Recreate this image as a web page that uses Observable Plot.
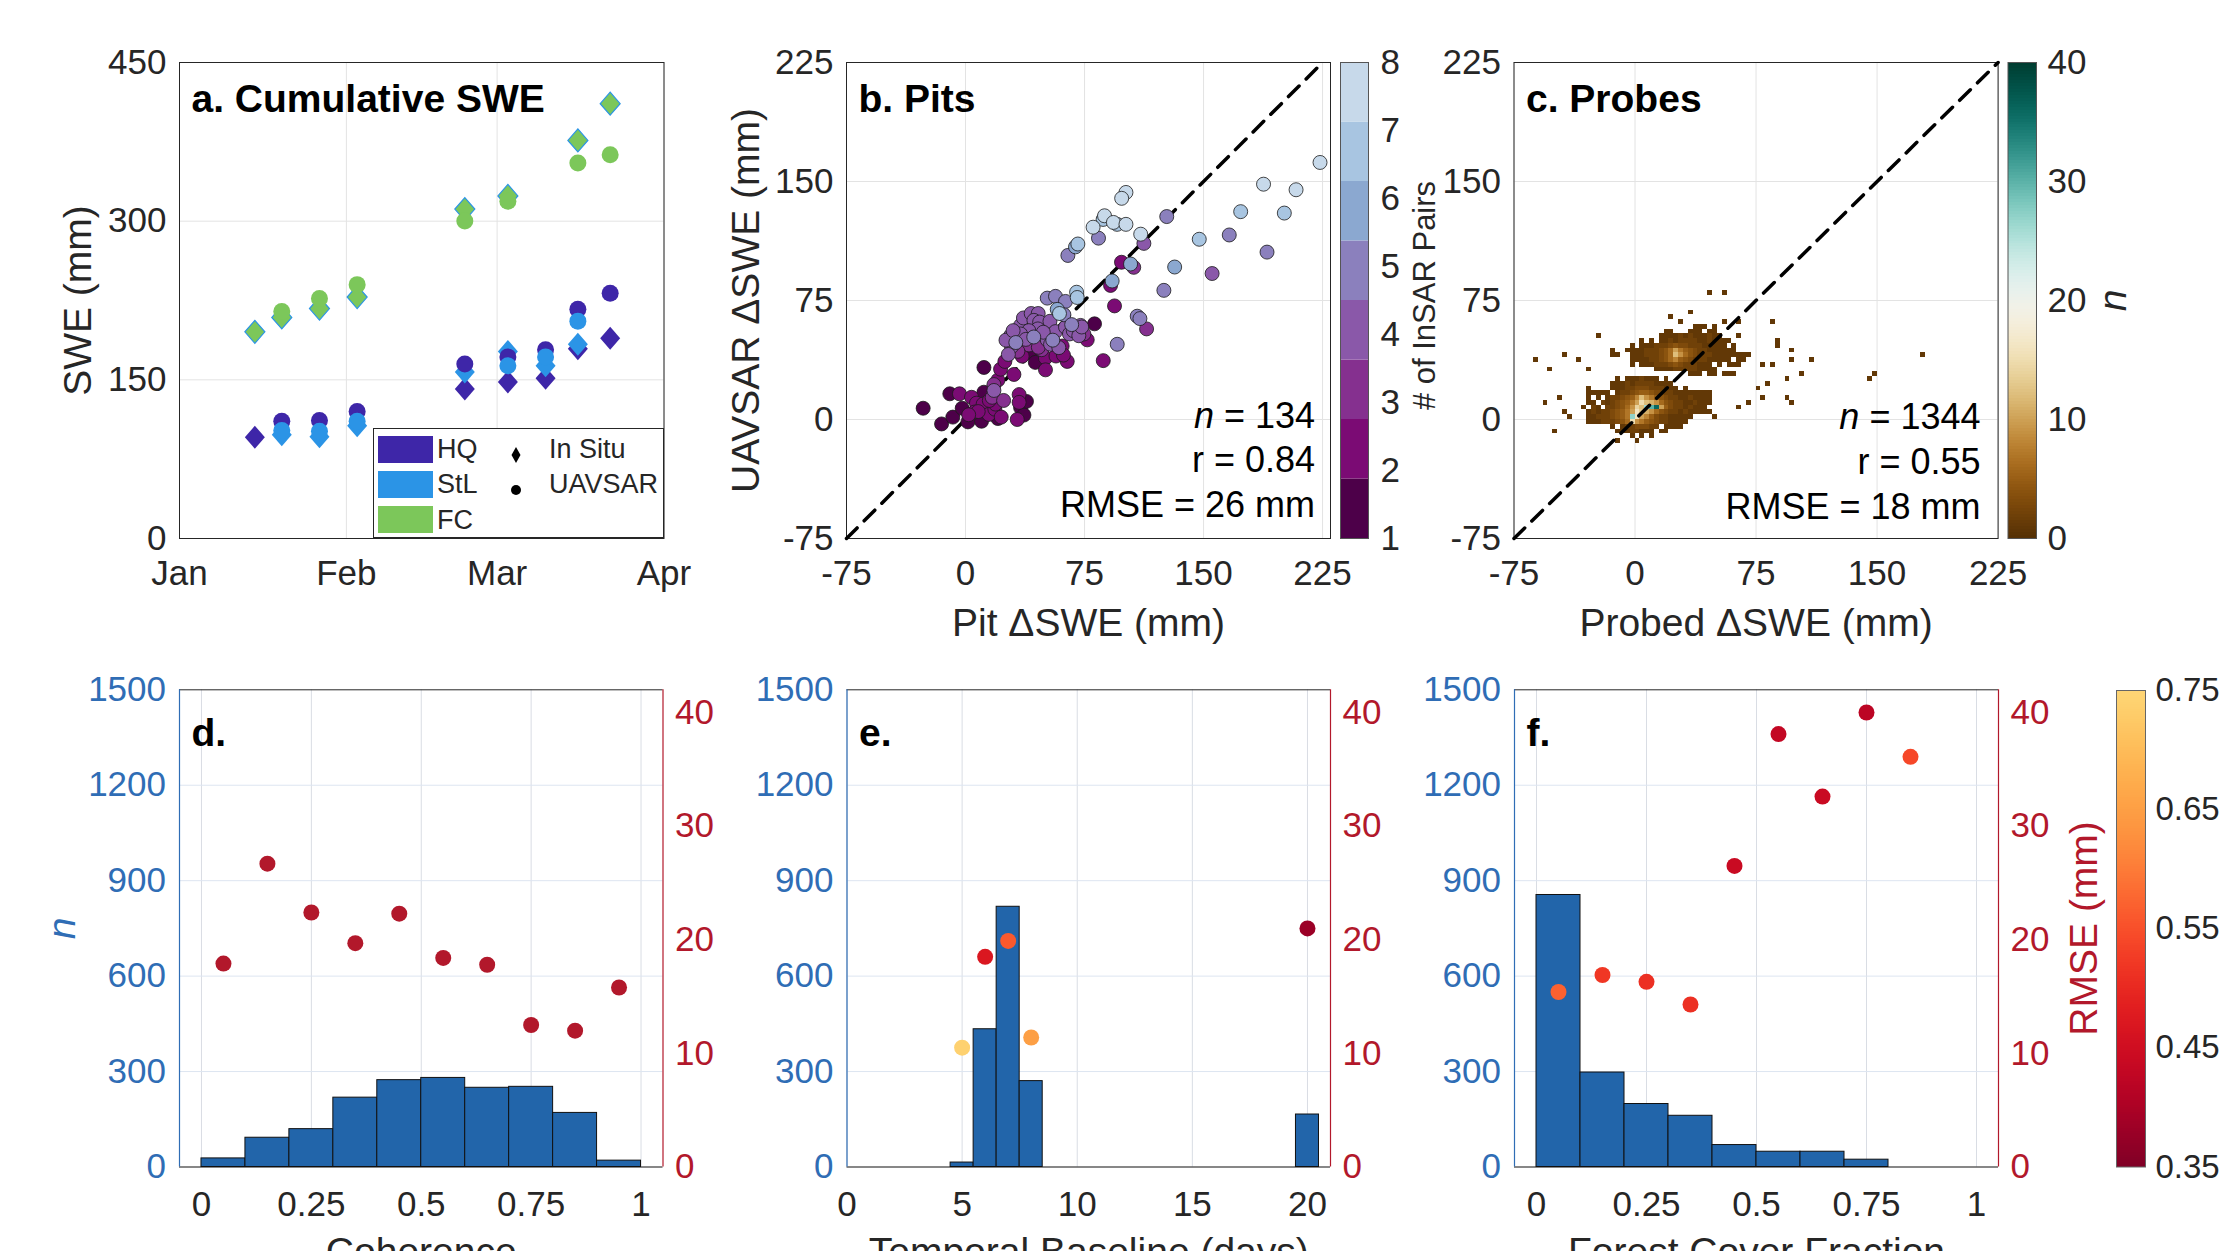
<!DOCTYPE html>
<html>
<head>
<meta charset="utf-8">
<script src="https://cdn.jsdelivr.net/npm/d3@7"></script>
<script src="https://cdn.jsdelivr.net/npm/@observablehq/plot@0.6"></script>
<style>
html, body { margin: 0; padding: 0; background: #fff; }
#fig { position: relative; width: 2219px; height: 1251px; overflow: hidden; background: #fff;
       font-family: "Liberation Sans", Arial, Helvetica, sans-serif; color: #262626; }
#fig > svg, #fig > div { position: absolute; }
</style>
</head>
<body>
<div id="fig"></div>
<script>
// ================= DATA =================
// (a) Cumulative SWE
const sites = ["HQ", "StL", "FC"];
const siteColors = ["#3e26a8", "#2b94e6", "#7cc75a"];
const flightDates = ["2021-01-15", "2021-01-20", "2021-01-27", "2021-02-03", "2021-02-23", "2021-03-03", "2021-03-10", "2021-03-16", "2021-03-22"];
const hqInSitu  = [95.7, null, null, null, 141.3, 148.0, 151.5, 179.5, 189.3];
const hqUavsar  = [null, 110.9, 111.6, 120.0, 165.0, 171.7, 178.5, 216.7, 231.9];
const stlInSitu = [null, 98.0, 96.3, 106.5, 157.5, 176.8, 163.3, 183.6, null];
const stlUavsar = [null, 102.0, 101.4, 110.9, null, 163.3, 171.7, 205.5, null];
const fcInSitu  = [195.4, 209.0, 217.4, 228.2, 311.4, 323.9, null, 376.3, 411.1];
const fcUavsar  = [null, 214.7, 226.8, 240.0, 300.2, 318.8, null, 355.0, 362.7];
const monthTicks = ["2021-01-01", "2021-02-01", "2021-03-01", "2021-04-01"];
const sweTicks = [0, 150, 300, 450];
const markerTypes = ["In Situ", "UAVSAR"];

// (b) Pits: pit dSWE, UAVSAR dSWE, number of InSAR pairs
const pitX = [223.4,187.8,208.3,101.1,98.4,173.4,200.9,126.8,87.6,86.7,93.2,95.5,101.1,80.4,147.3,166.2,190,131.8,155.4,125,110.4,112.4,
  83.8,64.5,69.3,70.8,98.3,104,106,92.4,91.4,93.9,86.8,95.6,108.2,109.9,114.1,51.5,56.7,63,57.8,59.2,70,70.4,
  28.4,29,34.7,36.5,41.4,45.8,43.1,46.7,45.6,39.9,34.7,31.7,35.7,41,46.7,50.4,51.5,53.2,56.7,53.6,58.8,60.9,60.3,64.1,
  63,65.5,67.9,72.5,71.4,74.6,76.7,81.3,50.4,-26.7,-15.1,-8,-9.9,-3.8,-2.1,1.5,3.8,6.9,5.7,10.1,11.6,11.1,14.7,16.8,17.9,
  18.5,20.4,22.5,18.9,20.4,17.9,22.1,24.8,11.6,30.5,33.8,33.8,34.7,38.4,32.6,36.8,25.5,38,43,49,40,55,33,27,48,57,44,
  8,13,2,24,15,30,62,66.9,73.2,61.7,45.9];
const pitY = [162,148.3,144.8,143.1,139.4,131,130.1,127.9,128.4,126.1,124.2,123,123,121.2,113.6,116.3,105.5,96.1,92,81.4,116.8,111,
  114.3,103.4,108.8,110.6,99.1,98,95.9,87.3,84.5,71.6,37.1,47.4,65.1,63.6,57.1,76.5,77.6,74.4,69.4,66.8,80.2,76.9,
  52.8,45.9,59.3,64,66.8,66.8,62.5,61.4,57.1,56,53.9,48.5,39.9,42,44.6,38.8,50.2,61.9,55.4,47.4,45.3,46.3,40.9,36.6,
  58.2,53.9,56,59.3,52.8,53.9,50.2,60.3,31.3,7.1,-2.8,1.5,16.2,16.2,7.1,-1.5,14,10.3,4.7,-1.1,17.2,9.7,3.2,14,18.3,
  6.5,0.6,1.5,9.7,24.8,22,31.7,36.6,32.8,28.4,15.7,10.8,7.5,11.4,0,2.8,50,50.5,52,55,47,50,43,41,44,40,36,
  5,8,3,12,12,56,66,59.8,58.3,40.6,45.5];
const pitPairs = [8,8,8,8,8,7,7,5,8,7,8,7,8,8,7,5,5,6,4,5,8,4,
  5,5,6,7,2,6,3,6,2,2,2,5,5,5,3,5,5,5,6,7,7,7,
  4,4,4,4,4,4,4,4,4,4,4,5,2,1,2,2,4,4,4,4,4,2,2,2,
  4,4,4,4,4,3,2,1,2,1,1,1,1,2,1,1,2,2,2,1,1,2,2,3,4,
  2,1,2,2,2,3,2,2,1,2,2,2,1,1,2,1,4,4,5,4,3,5,3,4,3,2,1,
  2,1,2,3,2,4,5,5,4,2,3];
const pairColors = ["#4d0049", "#7b0b74", "#85308f", "#8a58a9", "#8b80bd", "#8ba8d0", "#a8c5e1", "#c7d9ea"];
const pairTicks = [1, 2, 3, 4, 5, 6, 7, 8];
const statsPits = ["n = 134", "r = 0.84", "RMSE = 26 mm"];

// (c) Probes: 2-D histogram rows [y bin centre, first x bin centre, counts per 3 mm bin]
const probeBin = 3;
const probeRows = [
  [58.5, 37.5, [1,1,1,0,1]],
  [55.5, 19.5, [1,1,0,0,0,1,1,1,0,1,1]],
  [52.5, 16.5, [1,1,1,1,2,1,2,1,1,1,2,1,1]],
  [49.5, 4.5, [1,0,1,0,1,1,2,1,2,2,2,2,1,1,2,1,1,1,1]],
  [46.5, -1.5, [1,0,1,1,1,2,2,2,3,4,3,3,2,2,2,1,1,1,1,1,0,1]],
  [43.5, -13.5, [1,0,0,1,1,1,1,2,2,2,3,4,6,10,7,5,4,3,2,2,1,1,1,1,1,1]],
  [40.5, -13.5, [1,1,0,0,1,1,1,2,2,2,3,4,6,12,9,6,4,3,2,2,2,1,1,1,1,1,1,1,1]],
  [37.5, -1.5, [1,1,1,1,2,2,3,4,6,8,5,4,3,2,2,2,1,1,1,1,1,0,1,1]],
  [34.5, -1.5, [1,0,1,1,1,2,2,2,3,4,3,2,2,2,1,1,1,0,1,0,1,1,1]],
  [31.5, 13.5, [1,1,1,1,2,2,2,2,2,1,1,1,1]],
  [28.5, 34.5, [1,1,1,0,1,1,0,1,1,1]],
  [25.5, -10.5, [1,0,1,1,1,2,1,1,1,0,1]],
  [22.5, -13.5, [1,1,1,2,1,2,2,2,2,1,1,1,1]],
  [19.5, -28.5, [1,0,0,0,0,1,1,1,2,2,3,3,3,2,2,2,1,1,1,0,1]],
  [16.5, -28.5, [1,1,1,1,1,0,1,2,2,3,4,5,5,4,3,3,2,2,1,1,1,1,1,1,1,1]],
  [13.5, -28.5, [1,0,1,0,1,2,2,3,4,5,8,12,9,7,5,4,3,2,2,1,1,2,1,1,1,1]],
  [10.5, -28.5, [1,1,0,2,1,2,3,4,5,7,10,15,12,11,9,6,4,3,2,2,1,1,2,1,1,1]],
  [7.5, -31.5, [1,0,2,1,0,2,2,3,4,6,9,14,12,26,30,36,10,5,3,2,2,1,2,1,1,1]],
  [4.5, -28.5, [1,2,1,2,2,3,4,5,7,10,16,13,11,9,6,4,3,2,2,1,2,1,1,1,1,1]],
  [1.5, -28.5, [1,1,2,2,2,3,4,5,7,27,16,10,8,5,3,2,2,1,1,1,1,1]],
  [-1.5, -28.5, [1,1,1,2,2,2,3,4,6,15,9,7,5,4,3,2,2,1,1,1,1]],
  [-4.5, -13.5, [1,0,1,2,2,3,3,3,2,2,0,1,1,1,1]],
  [-7.5, -10.5, [1,1,1,2,2,1,1,1,0,1,1]],
  [-10.5, -1.5, [1,0,1,0,1]]
];
// isolated probe/UAVSAR pairs [probed dSWE, UAVSAR dSWE]
const probeSingles = [[46.7,80],[55,80],[22.2,65.1],[27.8,62],[35.9,67.5],[55.6,62],[65.7,62],[63.9,52.4],[85.1,62],
  [-22.7,53.1],[-61.9,38.5],[-43.4,41.1],[-35.4,38.5],[-53,32],[-29,32],[87.9,48.8],[87.9,45.8],[97.2,44.5],[97.2,38.5],
  [109,38.5],[103.5,29.1],[94,26],[78.3,34.4],[85,34.4],[76.5,20.4],[82,22.8],[147.7,27.6],[145,24.6],[178,41.1],
  [-56.8,11.5],[-48,13.9],[-44.2,5.5],[-41.7,1.9],[-50,-7],[93,13.9],[97.2,10.8],[78.3,13.9],[69.4,11.5],[63.6,6],
  [48.5,1.9],[31,-1.2],[-12,-12.5],[0.8,-12.5]];
const countTicks = [0, 10, 20, 30, 40];
const statsProbes = ["n = 1344", "r = 0.55", "RMSE = 18 mm"];
const dsweTicks = [-75, 0, 75, 150, 225];
const oneToOne = [-75, 225];

// (d) Coherence
const cohBinStart = [0, 0.1, 0.2, 0.3, 0.4, 0.5, 0.6, 0.7, 0.8, 0.9];
const cohBinWidth = 0.1;
const cohCount = [27, 92, 119, 218, 273, 280, 249, 252, 170, 20];
const cohRmse = [17.9, 26.7, 22.4, 19.7, 22.3, 18.4, 17.8, 12.5, 12.0, 15.8];
const cohTicks = [0, 0.25, 0.5, 0.75, 1];

// (e) Temporal baseline
const tbDays = [5, 6, 7, 8, 20];
const tbBinWidth = 1;
const tbCount = [14, 433, 818, 270, 165];
const tbRmse = [10.5, 18.5, 19.9, 11.4, 21.0];
const tbR = [0.74, 0.47, 0.56, 0.65, 0.38];
const tbTicks = [0, 5, 10, 15, 20];

// (f) Forest cover fraction
const fcfBinStart = [0, 0.1, 0.2, 0.3, 0.4, 0.5, 0.6, 0.7, 0.8, 0.9];
const fcfBinWidth = 0.1;
const fcfCount = [855, 297, 198, 161, 69, 48, 48, 23, 0, 0];
const fcfRmseCentre = [0.05, 0.15, 0.25, 0.35, 0.45, 0.55, 0.65, 0.75, 0.85];
const fcfRmse = [15.4, 16.9, 16.3, 14.3, 26.5, 38.1, 32.6, 40.0, 36.1];
const fcfR = [0.57, 0.52, 0.51, 0.51, 0.44, 0.43, 0.44, 0.42, 0.54];

const nTicks = [0, 300, 600, 900, 1200, 1500];
const rmseTicks = [0, 10, 20, 30, 40];
const nMax = 1500, rmseMax = 42;
const rTicks = [0.35, 0.45, 0.55, 0.65, 0.75];

// ================= STYLE / HELPERS =================
const fig = document.getElementById("fig");
const FONT = '"Liberation Sans", Arial, Helvetica, sans-serif';
const INK = "#262626";
const GRID = "#e3e3e3";
const GRID_H = "#dde5f1";
const GRID_V = "#d9dde4";
const BAR = "#2265aa";
const BLUE = "#2f6db5";
const RED = "#b2182b";
const TICK_FS = 35, LABEL_FS = 39, TITLE_FS = 39, STAT_FS = 36;

function dims(r, f) {
  return {width: r.width, height: r.height,
    marginLeft: f.x1 - r.left, marginRight: r.left + r.width - f.x2,
    marginTop: f.y1 - r.top, marginBottom: r.top + r.height - f.y2};
}
const baseStyle = {fontFamily: FONT, fontSize: TICK_FS + "px", color: INK, background: "none", overflow: "hidden"};
function place(svg, r) {
  svg.style.left = r.left + "px";
  svg.style.top = r.top + "px";
  svg.querySelectorAll("text, tspan").forEach(el => {
    if (el.children.length === 0 && /^n = /.test(el.textContent)) {
      const rest = el.textContent.slice(1);
      el.textContent = "";
      const t = document.createElementNS("http://www.w3.org/2000/svg", "tspan");
      t.setAttribute("font-style", "italic");
      t.textContent = "n";
      el.appendChild(t);
      el.appendChild(document.createTextNode(rest));
    }
  });
  fig.appendChild(svg);
}
const numFmt = d => String(d);
const diamondSym = {draw(ctx, size) {
  const r = Math.sqrt(size / Math.PI), w = r, h = r * 1.15;
  ctx.moveTo(0, -h); ctx.lineTo(w, 0); ctx.lineTo(0, h); ctx.lineTo(-w, 0); ctx.closePath();
}};
function rColor(v) {
  const t = 1 - Math.max(0, Math.min(1, (v - 0.35) / 0.4)) * 0.75;
  return d3.interpolateYlOrRd(t);
}
const countColor = n => d3.interpolateBrBG(Math.max(0, Math.min(1, n / 40)));
function panelTitle(txt, dy) {
  return Plot.text([txt], {text: d => d, frameAnchor: "top-left", dx: 12, dy, lineAnchor: "top", textAnchor: "start",
    fontWeight: "bold", fontSize: TITLE_FS, fill: "black"});
}
function vLabel(txt, side, dx, opts = {}) {
  return Plot.text([txt], {text: d => d, frameAnchor: side, textAnchor: "middle", lineAnchor: "middle", dx, rotate: -90,
    fontSize: LABEL_FS, fill: INK, ...opts});
}

// ================= (a) =================
{
  const R = {left: 0, top: 0, width: 720, height: 650};
  const F = {x1: 179, x2: 663.5, y1: 62, y2: 538};
  const series = vals => flightDates.map((d, i) => ({date: new Date(d), swe: vals[i]})).filter(d => d.swe != null);
  const inSitu = [hqInSitu, stlInSitu, fcInSitu];
  const uav = [hqUavsar, stlUavsar, fcUavsar];
  const months = monthTicks.map(d => new Date(d));
  const svg = Plot.plot({
    ...dims(R, F), style: baseStyle,
    x: {type: "utc", domain: [months[0], months[months.length - 1]]},
    y: {domain: [sweTicks[0], sweTicks[sweTicks.length - 1]]},
    marks: [
      Plot.ruleX(months, {stroke: GRID}),
      Plot.ruleY(sweTicks, {stroke: GRID}),
      Plot.frame({stroke: INK}),
      ...inSitu.map((v, i) => Plot.dot(series(v), {x: "date", y: "swe", symbol: diamondSym, r: 10,
        fill: siteColors[i], stroke: i === 2 ? siteColors[1] : "none", strokeWidth: 1.2})),
      ...uav.map((v, i) => Plot.dot(series(v), {x: "date", y: "swe", r: 8.5, fill: siteColors[i]})),
      Plot.axisX(months, {tickFormat: d3.utcFormat("%b"), tickSize: 0, tickPadding: 22, label: null, fill: INK}),
      Plot.axisY(sweTicks, {tickFormat: numFmt, tickSize: 0, tickPadding: 13, label: null, fill: INK}),
      vLabel("SWE (mm)", "left", -101),
      panelTitle("a. Cumulative SWE", 22)
    ]
  });
  place(svg, R);

  // legend (inside panel a, lower right)
  const leg = document.createElement("div");
  leg.style.cssText = "left:373px;top:428px;width:291px;height:110px;border:1px solid #262626;background:#fff;box-sizing:border-box;font-size:27px;color:#262626;";
  sites.forEach((s, i) => {
    const cy = 20 + i * 35.4;
    const sw = document.createElement("div");
    sw.style.cssText = `position:absolute;left:4px;top:${cy - 13.5}px;width:55px;height:27px;background:${siteColors[i]};`;
    leg.appendChild(sw);
    const tx = document.createElement("div");
    tx.textContent = s;
    tx.style.cssText = `position:absolute;left:63px;top:${cy}px;transform:translateY(-50%);line-height:1;`;
    leg.appendChild(tx);
  });
  markerTypes.forEach((m, i) => {
    const cy = 20 + i * 35.4;
    const mk = document.createElement("div");
    mk.style.cssText = `position:absolute;left:${141.7 - 8}px;top:${cy - 9}px;width:16px;height:18px;`;
    mk.innerHTML = i === 0
      ? '<svg width="16" height="18"><polygon points="8,1 12.5,9 8,17 3.5,9" fill="#000"/></svg>'
      : '<svg width="16" height="18"><circle cx="8" cy="9" r="5" fill="#000"/></svg>';
    leg.appendChild(mk);
    const tx = document.createElement("div");
    tx.textContent = m;
    tx.style.cssText = `position:absolute;left:175px;top:${cy}px;transform:translateY(-50%);line-height:1;`;
    leg.appendChild(tx);
  });
  fig.appendChild(leg);
}

// ================= (b) =================
{
  const R = {left: 720, top: 0, width: 640, height: 650};
  const F = {x1: 846, x2: 1330, y1: 62, y2: 538};
  const pits = pitX.map((x, i) => ({x, y: pitY[i], n: pitPairs[i]})).sort((a, b) => a.n - b.n);
  const svg = Plot.plot({
    ...dims(R, F), style: baseStyle,
    x: {domain: [-75, 230]}, y: {domain: [-75, 225]},
    marks: [
      Plot.ruleX(dsweTicks, {stroke: GRID}),
      Plot.ruleY(dsweTicks, {stroke: GRID}),
      Plot.frame({stroke: INK}),
      Plot.line(oneToOne, {x: d => d, y: d => d, stroke: "black", strokeWidth: 3.5, strokeDasharray: "15,10"}),
      Plot.dot(pits, {x: "x", y: "y", r: 7, fill: d => pairColors[d.n - 1], stroke: "#1a1a1a", strokeWidth: 0.8}),
      Plot.axisX(dsweTicks, {tickFormat: numFmt, tickSize: 0, tickPadding: 22, label: null, fill: INK}),
      Plot.axisY(dsweTicks, {tickFormat: numFmt, tickSize: 0, tickPadding: 13, label: null, fill: INK}),
      Plot.text(["Pit ΔSWE (mm)"], {text: d => d, frameAnchor: "bottom", dy: 84.6, lineAnchor: "middle", fontSize: LABEL_FS, fill: INK}),
      vLabel("UAVSAR ΔSWE (mm)", "left", -100),
      panelTitle("b. Pits", 22),
      Plot.text([statsPits.join("\n")], {text: d => d, frameAnchor: "bottom-right", textAnchor: "end", lineAnchor: "bottom",
        lineHeight: 1.24, dx: -15.4, dy: -21.5, fontSize: STAT_FS, fill: "black"})
    ]
  });
  place(svg, R);
}
// colorbar (b)
{
  const R = {left: 1335, top: 0, width: 160, height: 650};
  const F = {x1: 1340, x2: 1368, y1: 62, y2: 538};
  const lo = pairTicks[0], hi = pairTicks[pairTicks.length - 1];
  const step = (hi - lo) / pairColors.length;
  const bands = pairColors.map((c, i) => ({y1: lo + i * step, y2: lo + (i + 1) * step, c}));
  const svg = Plot.plot({
    ...dims(R, F), style: baseStyle,
    y: {domain: [lo, hi]},
    marks: [
      Plot.rect(bands, {y1: "y1", y2: "y2", fill: "c"}),
      Plot.frame({stroke: "#555", strokeWidth: 1}),
      Plot.axisY(pairTicks, {anchor: "right", tickFormat: numFmt, tickSize: 0, tickPadding: 12, label: null, fill: INK}),
      vLabel("# of InSAR Pairs", "right", 57, {fontSize: 31, dy: -5})
    ]
  });
  place(svg, R);
}

// ================= (c) =================
{
  const R = {left: 1390, top: 0, width: 660, height: 650};
  const F = {x1: 1513.5, x2: 1997.6, y1: 62, y2: 538};
  const snap = v => Math.floor((v + 75) / probeBin) * probeBin - 75 + probeBin / 2;
  const cells = [];
  for (const [yc, x0, counts] of probeRows) counts.forEach((n, i) => { if (n > 0) cells.push({x: x0 + i * probeBin, y: yc, n}); });
  for (const [x, y] of probeSingles) cells.push({x: snap(x), y: snap(y), n: 1});
  const svg = Plot.plot({
    ...dims(R, F), style: baseStyle,
    x: {domain: [-75, 225]}, y: {domain: [-75, 225]},
    marks: [
      Plot.ruleX(dsweTicks, {stroke: GRID}),
      Plot.ruleY(dsweTicks, {stroke: GRID}),
      Plot.rect(cells, {x1: d => d.x - probeBin / 2, x2: d => d.x + probeBin / 2, y1: d => d.y - probeBin / 2, y2: d => d.y + probeBin / 2,
        fill: d => countColor(d.n), shapeRendering: "crispEdges"}),
      Plot.frame({stroke: INK}),
      Plot.line(oneToOne, {x: d => d, y: d => d, stroke: "black", strokeWidth: 3.5, strokeDasharray: "15,10"}),
      Plot.axisX(dsweTicks, {tickFormat: numFmt, tickSize: 0, tickPadding: 22, label: null, fill: INK}),
      Plot.axisY(dsweTicks, {tickFormat: numFmt, tickSize: 0, tickPadding: 13, label: null, fill: INK}),
      Plot.text(["Probed ΔSWE (mm)"], {text: d => d, frameAnchor: "bottom", dy: 84.6, lineAnchor: "middle", fontSize: LABEL_FS, fill: INK}),
      panelTitle("c. Probes", 22),
      Plot.text([statsProbes.join("\n")], {text: d => d, frameAnchor: "bottom-right", textAnchor: "end", lineAnchor: "bottom",
        lineHeight: 1.24, dx: -17.6, dy: -20, fontSize: STAT_FS, fill: "black"})
    ]
  });
  place(svg, R);
}
// colorbar (c)
{
  const R = {left: 2000, top: 0, width: 219, height: 650};
  const F = {x1: 2007.5, x2: 2036, y1: 62, y2: 538};
  const lo = countTicks[0], hi = countTicks[countTicks.length - 1];
  const step = 0.25;
  const steps = d3.range(lo, hi, step);
  const svg = Plot.plot({
    ...dims(R, F), style: baseStyle,
    y: {domain: [lo, hi]},
    marks: [
      Plot.rect(steps, {y1: d => d, y2: d => Math.min(hi, d + step * 1.5), fill: d => countColor(d + step / 2), shapeRendering: "crispEdges"}),
      Plot.frame({stroke: "#555", strokeWidth: 1}),
      Plot.axisY(countTicks, {anchor: "right", tickFormat: numFmt, tickSize: 0, tickPadding: 11, label: null, fill: INK}),
      vLabel("n", "right", 77, {fontStyle: "italic"})
    ]
  });
  place(svg, R);
}

// ================= bottom row =================
const K = nMax / rmseMax;
function bottomPanel({R, F, xDomain, xTicks, bars, dots, title, xLabel, rightLabel}) {
  const marks = [
    Plot.ruleX(xTicks, {stroke: GRID_V}),
    Plot.ruleY(nTicks.filter(v => v > 0 && v < nMax), {stroke: GRID_H}),
    Plot.rect(bars.filter(d => d.n > 0), {x1: "x1", x2: "x2", y1: 0, y2: "n", fill: BAR, stroke: "#111", strokeWidth: 1}),
    Plot.ruleY([0], {stroke: "#111", strokeWidth: 1.2}),
    Plot.ruleY([nMax], {stroke: INK}),
    Plot.ruleX([xDomain[0]], {stroke: BLUE, strokeWidth: 1.2}),
    Plot.ruleX([xDomain[1]], {stroke: RED, strokeWidth: 1.2}),
    Plot.dot(dots, {x: "x", y: d => d.rmse * K, r: 8, fill: "c"}),
    Plot.axisX(xTicks, {tickFormat: numFmt, tickSize: 0, tickPadding: 24, label: null, fill: INK}),
    Plot.axisY(nTicks, {tickFormat: numFmt, tickSize: 0, tickPadding: 13.5, label: null, fill: BLUE}),
    Plot.axisY(rmseTicks.map(v => v * K), {anchor: "right", tickFormat: v => String(Math.round(v / K)), tickSize: 0, tickPadding: 12, label: null, fill: RED}),
    Plot.text([xLabel], {text: d => d, frameAnchor: "bottom", dy: 70.5, lineAnchor: "top", fontSize: LABEL_FS, fill: INK}),
    panelTitle(title, 28.7)
  ];
  if (title === "d.") marks.push(vLabel("n", "left", -117, {fontStyle: "italic", fill: BLUE}));
  if (rightLabel) marks.push(vLabel(rightLabel, "right", 86, {fill: RED}));
  const svg = Plot.plot({...dims(R, F), style: baseStyle, x: {domain: xDomain}, y: {domain: [0, nMax]}, marks});
  place(svg, R);
}
bottomPanel({
  R: {left: 0, top: 650, width: 760, height: 601}, F: {x1: 179, x2: 662.5, y1: 689.3, y2: 1166.5},
  xDomain: [-0.05, 1.05], xTicks: cohTicks,
  bars: cohBinStart.map((s, i) => ({x1: s, x2: s + cohBinWidth, n: cohCount[i]})),
  dots: cohBinStart.map((s, i) => ({x: s + cohBinWidth / 2, rmse: cohRmse[i], c: RED})),
  title: "d.", xLabel: "Coherence"
});
bottomPanel({
  R: {left: 740, top: 650, width: 700, height: 601}, F: {x1: 846.5, x2: 1330, y1: 689.3, y2: 1166.5},
  xDomain: [0, 21], xTicks: tbTicks,
  bars: tbDays.map((d, i) => ({x1: d - tbBinWidth / 2, x2: d + tbBinWidth / 2, n: tbCount[i]})),
  dots: tbDays.map((d, i) => ({x: d, rmse: tbRmse[i], c: rColor(tbR[i])})),
  title: "e.", xLabel: "Temporal Baseline (days)"
});
bottomPanel({
  R: {left: 1410, top: 650, width: 809, height: 601}, F: {x1: 1514, x2: 1998, y1: 689.3, y2: 1166.5},
  xDomain: [-0.05, 1.05], xTicks: cohTicks,
  bars: fcfBinStart.map((s, i) => ({x1: s, x2: s + fcfBinWidth, n: fcfCount[i]})),
  dots: fcfRmseCentre.map((x, i) => ({x, rmse: fcfRmse[i], c: rColor(fcfR[i])})),
  title: "f.", xLabel: "Forest Cover Fraction", rightLabel: "RMSE (mm)"
});
// colorbar (f)
{
  const R = {left: 2100, top: 650, width: 119, height: 601};
  const F = {x1: 2116, x2: 2145, y1: 690, y2: 1166.5};
  const lo = rTicks[0], hi = rTicks[rTicks.length - 1];
  const step = 0.002;
  const steps = d3.range(lo, hi, step);
  const svg = Plot.plot({
    ...dims(R, F), style: baseStyle,
    y: {domain: [lo, hi]},
    marks: [
      Plot.rect(steps, {y1: d => d, y2: d => Math.min(hi, d + step * 1.5), fill: d => rColor(d + step / 2), shapeRendering: "crispEdges"}),
      Plot.frame({stroke: "#666", strokeWidth: 1}),
      Plot.axisY(rTicks, {anchor: "right", tickFormat: d3.format(".2f"), tickSize: 0, tickPadding: 10, label: null, fill: INK, fontSize: 33})
    ]
  });
  place(svg, R);
}
</script>
</body>
</html>
